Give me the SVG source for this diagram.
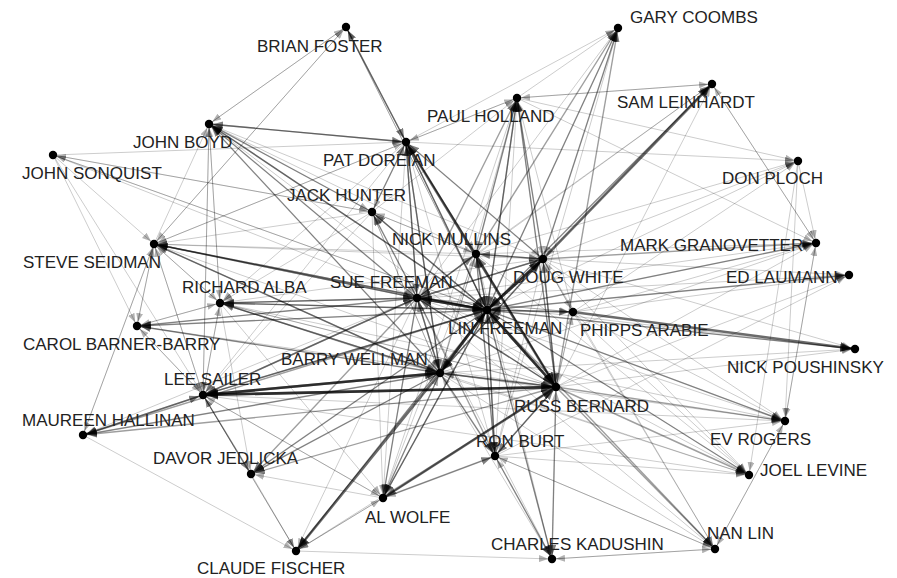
<svg xmlns="http://www.w3.org/2000/svg" width="897" height="578" viewBox="0 0 897 578">
<style>
  line { stroke: #000; stroke-opacity: .2; stroke-width: 1; marker-end: url(#ma); }
  line.b { stroke-opacity: .38; stroke-width: 1.4; marker-end: url(#mb); }
  line.c { stroke-opacity: .58; stroke-width: 2.6; marker-end: url(#mc); }
  circle { fill: #000; }
  text { font-family: "Liberation Sans", Arial, sans-serif; font-size: 17px; fill: #222; }
</style>
<defs>
  <marker id="ma" viewBox="0 0 9 7" refX="13" refY="3.5" markerWidth="9" markerHeight="7" markerUnits="userSpaceOnUse" orient="auto">
    <path d="M0,0 L9,3.5 L0,7 z" fill="#000" fill-opacity=".3"/>
  </marker>
  <marker id="mb" viewBox="0 0 10 8" refX="14" refY="4" markerWidth="10" markerHeight="8" markerUnits="userSpaceOnUse" orient="auto">
    <path d="M0,0 L10,4 L0,8 z" fill="#000" fill-opacity=".5"/>
  </marker>
  <marker id="mc" viewBox="0 0 12 10" refX="15" refY="5" markerWidth="12" markerHeight="10" markerUnits="userSpaceOnUse" orient="auto">
    <path d="M0,0 L12,5 L0,10 z" fill="#000" fill-opacity=".7"/>
  </marker>
</defs>
<rect width="897" height="578" fill="#fff"/>
<g id="edges">
  <!-- Lin Freeman -->
  <line class="b" x1="487" y1="310" x2="618" y2="28"/>
  <line class="b" x1="487" y1="310" x2="712" y2="84"/>
  <line class="b" x1="487" y1="310" x2="517" y2="98"/>
  <line class="b" x1="487" y1="310" x2="406" y2="142"/>
  <line class="b" x1="487" y1="310" x2="209" y2="124"/>
  <line x1="487" y1="310" x2="346" y2="27"/>
  <line x1="487" y1="310" x2="798" y2="161"/>
  <line class="b" x1="487" y1="310" x2="816" y2="243"/>
  <line class="b" x1="487" y1="310" x2="849" y2="275"/>
  <line class="b" x1="487" y1="310" x2="855" y2="349"/>
  <line class="b" x1="487" y1="310" x2="785" y2="421"/>
  <line class="b" x1="487" y1="310" x2="749" y2="475"/>
  <line class="b" x1="487" y1="310" x2="715" y2="549"/>
  <line class="b" x1="487" y1="310" x2="552" y2="559"/>
  <line class="b" x1="487" y1="310" x2="495" y2="456"/>
  <line class="b" x1="487" y1="310" x2="383" y2="498"/>
  <line class="b" x1="487" y1="310" x2="296" y2="551"/>
  <line class="b" x1="487" y1="310" x2="251" y2="474"/>
  <line class="b" x1="487" y1="310" x2="83" y2="435"/>
  <line class="b" x1="487" y1="310" x2="203" y2="395"/>
  <line class="b" x1="487" y1="310" x2="137" y2="326"/>
  <line class="b" x1="487" y1="310" x2="154" y2="244"/>
  <line class="b" x1="487" y1="310" x2="220" y2="303"/>
  <line x1="487" y1="310" x2="53" y2="155"/>
  <line class="b" x1="487" y1="310" x2="372" y2="212"/>
  <line class="c" x1="487" y1="310" x2="417" y2="298"/>
  <line class="c" x1="487" y1="310" x2="440" y2="373"/>
  <line class="c" x1="487" y1="310" x2="556" y2="387"/>
  <line class="c" x1="487" y1="310" x2="543" y2="259"/>
  <line class="b" x1="487" y1="310" x2="476" y2="254"/>
  <line class="b" x1="487" y1="310" x2="573" y2="312"/>
  <!-- Sue Freeman -->
  <line class="c" x1="417" y1="298" x2="487" y2="310"/>
  <line class="b" x1="417" y1="298" x2="440" y2="373"/>
  <line class="b" x1="417" y1="298" x2="556" y2="387"/>
  <line class="b" x1="417" y1="298" x2="543" y2="259"/>
  <line class="b" x1="417" y1="298" x2="476" y2="254"/>
  <line class="b" x1="417" y1="298" x2="406" y2="142"/>
  <line class="b" x1="417" y1="298" x2="372" y2="212"/>
  <line class="b" x1="417" y1="298" x2="209" y2="124"/>
  <line class="b" x1="417" y1="298" x2="220" y2="303"/>
  <line class="b" x1="417" y1="298" x2="154" y2="244"/>
  <line class="b" x1="417" y1="298" x2="137" y2="326"/>
  <line class="b" x1="417" y1="298" x2="203" y2="395"/>
  <line x1="417" y1="298" x2="83" y2="435"/>
  <line class="b" x1="417" y1="298" x2="251" y2="474"/>
  <line class="b" x1="417" y1="298" x2="383" y2="498"/>
  <line x1="417" y1="298" x2="296" y2="551"/>
  <line class="b" x1="417" y1="298" x2="495" y2="456"/>
  <line x1="417" y1="298" x2="552" y2="559"/>
  <line x1="417" y1="298" x2="715" y2="549"/>
  <line x1="417" y1="298" x2="749" y2="475"/>
  <line x1="417" y1="298" x2="785" y2="421"/>
  <line x1="417" y1="298" x2="855" y2="349"/>
  <line x1="417" y1="298" x2="849" y2="275"/>
  <line x1="417" y1="298" x2="816" y2="243"/>
  <line class="b" x1="417" y1="298" x2="517" y2="98"/>
  <line x1="417" y1="298" x2="712" y2="84"/>
  <line x1="417" y1="298" x2="618" y2="28"/>
  <line x1="417" y1="298" x2="573" y2="312"/>
  <!-- Barry Wellman -->
  <line class="c" x1="440" y1="373" x2="487" y2="310"/>
  <line class="c" x1="440" y1="373" x2="203" y2="395"/>
  <line class="c" x1="440" y1="373" x2="296" y2="551"/>
  <line class="b" x1="440" y1="373" x2="417" y2="298"/>
  <line class="b" x1="440" y1="373" x2="556" y2="387"/>
  <line class="b" x1="440" y1="373" x2="406" y2="142"/>
  <line class="b" x1="440" y1="373" x2="209" y2="124"/>
  <line x1="440" y1="373" x2="372" y2="212"/>
  <line class="b" x1="440" y1="373" x2="220" y2="303"/>
  <line class="b" x1="440" y1="373" x2="154" y2="244"/>
  <line class="b" x1="440" y1="373" x2="137" y2="326"/>
  <line class="b" x1="440" y1="373" x2="83" y2="435"/>
  <line class="b" x1="440" y1="373" x2="251" y2="474"/>
  <line class="b" x1="440" y1="373" x2="383" y2="498"/>
  <line class="b" x1="440" y1="373" x2="495" y2="456"/>
  <line x1="440" y1="373" x2="552" y2="559"/>
  <line x1="440" y1="373" x2="715" y2="549"/>
  <line x1="440" y1="373" x2="749" y2="475"/>
  <line x1="440" y1="373" x2="785" y2="421"/>
  <line x1="440" y1="373" x2="855" y2="349"/>
  <line x1="440" y1="373" x2="816" y2="243"/>
  <line x1="440" y1="373" x2="517" y2="98"/>
  <line class="b" x1="440" y1="373" x2="543" y2="259"/>
  <line x1="440" y1="373" x2="476" y2="254"/>
  <!-- Russ Bernard -->
  <line class="c" x1="556" y1="387" x2="487" y2="310"/>
  <line class="c" x1="556" y1="387" x2="203" y2="395"/>
  <line class="b" x1="556" y1="387" x2="440" y2="373"/>
  <line class="b" x1="556" y1="387" x2="417" y2="298"/>
  <line class="b" x1="556" y1="387" x2="406" y2="142"/>
  <line class="b" x1="556" y1="387" x2="543" y2="259"/>
  <line class="b" x1="556" y1="387" x2="476" y2="254"/>
  <line class="b" x1="556" y1="387" x2="517" y2="98"/>
  <line x1="556" y1="387" x2="712" y2="84"/>
  <line class="b" x1="556" y1="387" x2="618" y2="28"/>
  <line x1="556" y1="387" x2="816" y2="243"/>
  <line x1="556" y1="387" x2="849" y2="275"/>
  <line x1="556" y1="387" x2="855" y2="349"/>
  <line class="b" x1="556" y1="387" x2="785" y2="421"/>
  <line class="b" x1="556" y1="387" x2="749" y2="475"/>
  <line class="b" x1="556" y1="387" x2="715" y2="549"/>
  <line class="b" x1="556" y1="387" x2="552" y2="559"/>
  <line class="b" x1="556" y1="387" x2="495" y2="456"/>
  <line class="b" x1="556" y1="387" x2="383" y2="498"/>
  <line class="b" x1="556" y1="387" x2="251" y2="474"/>
  <line class="b" x1="556" y1="387" x2="83" y2="435"/>
  <line x1="556" y1="387" x2="296" y2="551"/>
  <line x1="556" y1="387" x2="220" y2="303"/>
  <line x1="556" y1="387" x2="154" y2="244"/>
  <line x1="556" y1="387" x2="137" y2="326"/>
  <line x1="556" y1="387" x2="209" y2="124"/>
  <line x1="556" y1="387" x2="573" y2="312"/>
  <!-- Doug White -->
  <line class="c" x1="543" y1="259" x2="487" y2="310"/>
  <line class="c" x1="543" y1="259" x2="712" y2="84"/>
  <line class="b" x1="543" y1="259" x2="618" y2="28"/>
  <line class="b" x1="543" y1="259" x2="517" y2="98"/>
  <line class="b" x1="543" y1="259" x2="406" y2="142"/>
  <line class="b" x1="543" y1="259" x2="476" y2="254"/>
  <line class="b" x1="543" y1="259" x2="417" y2="298"/>
  <line class="b" x1="543" y1="259" x2="440" y2="373"/>
  <line class="b" x1="543" y1="259" x2="556" y2="387"/>
  <line class="b" x1="543" y1="259" x2="816" y2="243"/>
  <line x1="543" y1="259" x2="849" y2="275"/>
  <line x1="543" y1="259" x2="855" y2="349"/>
  <line x1="543" y1="259" x2="798" y2="161"/>
  <line x1="543" y1="259" x2="785" y2="421"/>
  <line x1="543" y1="259" x2="749" y2="475"/>
  <line x1="543" y1="259" x2="715" y2="549"/>
  <line x1="543" y1="259" x2="495" y2="456"/>
  <line x1="543" y1="259" x2="209" y2="124"/>
  <line x1="543" y1="259" x2="154" y2="244"/>
  <line x1="543" y1="259" x2="220" y2="303"/>
  <line x1="543" y1="259" x2="573" y2="312"/>
  <!-- Nick Mullins -->
  <line class="b" x1="476" y1="254" x2="517" y2="98"/>
  <line class="b" x1="476" y1="254" x2="618" y2="28"/>
  <line x1="476" y1="254" x2="712" y2="84"/>
  <line class="b" x1="476" y1="254" x2="406" y2="142"/>
  <line class="b" x1="476" y1="254" x2="487" y2="310"/>
  <line class="b" x1="476" y1="254" x2="543" y2="259"/>
  <line class="b" x1="476" y1="254" x2="417" y2="298"/>
  <line x1="476" y1="254" x2="440" y2="373"/>
  <line x1="476" y1="254" x2="556" y2="387"/>
  <line x1="476" y1="254" x2="209" y2="124"/>
  <line x1="476" y1="254" x2="372" y2="212"/>
  <line x1="476" y1="254" x2="154" y2="244"/>
  <line class="b" x1="476" y1="254" x2="495" y2="456"/>
  <line x1="476" y1="254" x2="552" y2="559"/>
  <line x1="476" y1="254" x2="383" y2="498"/>
  <line x1="476" y1="254" x2="816" y2="243"/>
  <line x1="476" y1="254" x2="798" y2="161"/>
  <line x1="476" y1="254" x2="749" y2="475"/>
  <!-- Pat Doreian -->
  <line class="c" x1="406" y1="142" x2="556" y2="387"/>
  <line class="b" x1="406" y1="142" x2="487" y2="310"/>
  <line class="b" x1="406" y1="142" x2="440" y2="373"/>
  <line class="b" x1="406" y1="142" x2="417" y2="298"/>
  <line class="b" x1="406" y1="142" x2="209" y2="124"/>
  <line x1="406" y1="142" x2="517" y2="98"/>
  <line x1="406" y1="142" x2="543" y2="259"/>
  <line x1="406" y1="142" x2="618" y2="28"/>
  <line class="b" x1="406" y1="142" x2="346" y2="27"/>
  <line x1="406" y1="142" x2="798" y2="161"/>
  <line x1="406" y1="142" x2="372" y2="212"/>
  <line x1="406" y1="142" x2="154" y2="244"/>
  <line x1="406" y1="142" x2="220" y2="303"/>
  <line x1="406" y1="142" x2="203" y2="395"/>
  <line x1="406" y1="142" x2="383" y2="498"/>
  <line x1="406" y1="142" x2="495" y2="456"/>
  <line x1="406" y1="142" x2="476" y2="254"/>
  <!-- Jack Hunter -->
  <line class="b" x1="372" y1="212" x2="209" y2="124"/>
  <line class="b" x1="372" y1="212" x2="406" y2="142"/>
  <line class="b" x1="372" y1="212" x2="487" y2="310"/>
  <line x1="372" y1="212" x2="417" y2="298"/>
  <line x1="372" y1="212" x2="440" y2="373"/>
  <line x1="372" y1="212" x2="517" y2="98"/>
  <line x1="372" y1="212" x2="53" y2="155"/>
  <line x1="372" y1="212" x2="154" y2="244"/>
  <line x1="372" y1="212" x2="220" y2="303"/>
  <line x1="372" y1="212" x2="203" y2="395"/>
  <line x1="372" y1="212" x2="383" y2="498"/>
  <line x1="372" y1="212" x2="476" y2="254"/>
  <!-- Paul Holland -->
  <line x1="517" y1="98" x2="406" y2="142"/>
  <line class="b" x1="517" y1="98" x2="487" y2="310"/>
  <line x1="517" y1="98" x2="712" y2="84"/>
  <line x1="517" y1="98" x2="618" y2="28"/>
  <line x1="517" y1="98" x2="543" y2="259"/>
  <line x1="517" y1="98" x2="476" y2="254"/>
  <line x1="517" y1="98" x2="556" y2="387"/>
  <line x1="517" y1="98" x2="798" y2="161"/>
  <line x1="517" y1="98" x2="816" y2="243"/>
  <!-- Phipps Arabie -->
  <line class="c" x1="573" y1="312" x2="855" y2="349"/>
  <line class="b" x1="573" y1="312" x2="487" y2="310"/>
  <line x1="573" y1="312" x2="543" y2="259"/>
  <line x1="573" y1="312" x2="816" y2="243"/>
  <line x1="573" y1="312" x2="849" y2="275"/>
  <line x1="573" y1="312" x2="798" y2="161"/>
  <line x1="573" y1="312" x2="785" y2="421"/>
  <line x1="573" y1="312" x2="749" y2="475"/>
  <line x1="573" y1="312" x2="517" y2="98"/>
  <line x1="573" y1="312" x2="417" y2="298"/>
  <line x1="573" y1="312" x2="556" y2="387"/>
  <line x1="573" y1="312" x2="715" y2="549"/>
  <!-- Ron Burt -->
  <line class="b" x1="495" y1="456" x2="556" y2="387"/>
  <line class="b" x1="495" y1="456" x2="487" y2="310"/>
  <line class="b" x1="495" y1="456" x2="552" y2="559"/>
  <line x1="495" y1="456" x2="715" y2="549"/>
  <line x1="495" y1="456" x2="383" y2="498"/>
  <line x1="495" y1="456" x2="440" y2="373"/>
  <line x1="495" y1="456" x2="476" y2="254"/>
  <line x1="495" y1="456" x2="517" y2="98"/>
  <line x1="495" y1="456" x2="618" y2="28"/>
  <line x1="495" y1="456" x2="849" y2="275"/>
  <line x1="495" y1="456" x2="785" y2="421"/>
  <line x1="495" y1="456" x2="749" y2="475"/>
  <!-- Al Wolfe -->
  <line class="c" x1="383" y1="498" x2="556" y2="387"/>
  <line class="b" x1="383" y1="498" x2="495" y2="456"/>
  <line class="b" x1="383" y1="498" x2="487" y2="310"/>
  <line x1="383" y1="498" x2="440" y2="373"/>
  <line x1="383" y1="498" x2="417" y2="298"/>
  <line x1="383" y1="498" x2="296" y2="551"/>
  <line x1="383" y1="498" x2="251" y2="474"/>
  <line x1="383" y1="498" x2="203" y2="395"/>
  <line x1="383" y1="498" x2="517" y2="98"/>
  <!-- Lee Sailer -->
  <line class="c" x1="203" y1="395" x2="440" y2="373"/>
  <line class="c" x1="203" y1="395" x2="556" y2="387"/>
  <line class="b" x1="203" y1="395" x2="487" y2="310"/>
  <line class="b" x1="203" y1="395" x2="417" y2="298"/>
  <line class="b" x1="203" y1="395" x2="83" y2="435"/>
  <line class="b" x1="203" y1="395" x2="251" y2="474"/>
  <line x1="203" y1="395" x2="296" y2="551"/>
  <line x1="203" y1="395" x2="209" y2="124"/>
  <line x1="203" y1="395" x2="154" y2="244"/>
  <line x1="203" y1="395" x2="137" y2="326"/>
  <line x1="203" y1="395" x2="220" y2="303"/>
  <line x1="203" y1="395" x2="383" y2="498"/>
  <line x1="203" y1="395" x2="785" y2="421"/>
  <line x1="203" y1="395" x2="749" y2="475"/>
  <!-- Richard Alba -->
  <line class="b" x1="220" y1="303" x2="487" y2="310"/>
  <line class="b" x1="220" y1="303" x2="417" y2="298"/>
  <line class="b" x1="220" y1="303" x2="440" y2="373"/>
  <line x1="220" y1="303" x2="556" y2="387"/>
  <line x1="220" y1="303" x2="203" y2="395"/>
  <line x1="220" y1="303" x2="209" y2="124"/>
  <line x1="220" y1="303" x2="154" y2="244"/>
  <line x1="220" y1="303" x2="137" y2="326"/>
  <line x1="220" y1="303" x2="383" y2="498"/>
  <line x1="220" y1="303" x2="251" y2="474"/>
  <line x1="220" y1="303" x2="785" y2="421"/>
  <line x1="220" y1="303" x2="749" y2="475"/>
  <!-- Steve Seidman -->
  <line class="b" x1="154" y1="244" x2="487" y2="310"/>
  <line class="b" x1="154" y1="244" x2="417" y2="298"/>
  <line class="b" x1="154" y1="244" x2="440" y2="373"/>
  <line x1="154" y1="244" x2="137" y2="326"/>
  <line x1="154" y1="244" x2="203" y2="395"/>
  <line x1="154" y1="244" x2="209" y2="124"/>
  <line x1="154" y1="244" x2="406" y2="142"/>
  <line x1="154" y1="244" x2="220" y2="303"/>
  <line x1="154" y1="244" x2="346" y2="27"/>
  <line x1="154" y1="244" x2="83" y2="435"/>
  <!-- Carol Barner-Barry -->
  <line x1="137" y1="326" x2="487" y2="310"/>
  <line x1="137" y1="326" x2="417" y2="298"/>
  <line x1="137" y1="326" x2="440" y2="373"/>
  <line x1="137" y1="326" x2="220" y2="303"/>
  <line x1="137" y1="326" x2="203" y2="395"/>
  <line x1="137" y1="326" x2="154" y2="244"/>
  <!-- John Boyd -->
  <line class="b" x1="209" y1="124" x2="406" y2="142"/>
  <line class="b" x1="209" y1="124" x2="487" y2="310"/>
  <line x1="209" y1="124" x2="417" y2="298"/>
  <line x1="209" y1="124" x2="440" y2="373"/>
  <line x1="209" y1="124" x2="203" y2="395"/>
  <line x1="209" y1="124" x2="346" y2="27"/>
  <line x1="209" y1="124" x2="372" y2="212"/>
  <line x1="209" y1="124" x2="220" y2="303"/>
  <!-- John Sonquist -->
  <line x1="53" y1="155" x2="372" y2="212"/>
  <line x1="53" y1="155" x2="417" y2="298"/>
  <line x1="53" y1="155" x2="487" y2="310"/>
  <line x1="53" y1="155" x2="154" y2="244"/>
  <line x1="53" y1="155" x2="137" y2="326"/>
  <line x1="53" y1="155" x2="203" y2="395"/>
  <line x1="53" y1="155" x2="406" y2="142"/>
  <!-- Maureen Hallinan -->
  <line class="b" x1="83" y1="435" x2="203" y2="395"/>
  <line x1="83" y1="435" x2="296" y2="551"/>
  <line x1="83" y1="435" x2="440" y2="373"/>
  <line x1="83" y1="435" x2="154" y2="244"/>
  <!-- Davor Jedlicka -->
  <line x1="251" y1="474" x2="203" y2="395"/>
  <line x1="251" y1="474" x2="296" y2="551"/>
  <line x1="251" y1="474" x2="487" y2="310"/>
  <line x1="251" y1="474" x2="440" y2="373"/>
  <!-- Claude Fischer -->
  <line x1="296" y1="551" x2="552" y2="559"/>
  <line x1="296" y1="551" x2="203" y2="395"/>
  <line x1="296" y1="551" x2="487" y2="310"/>
  <line x1="296" y1="551" x2="383" y2="498"/>
  <!-- Charles Kadushin -->
  <line x1="552" y1="559" x2="495" y2="456"/>
  <line x1="552" y1="559" x2="715" y2="549"/>
  <line x1="552" y1="559" x2="487" y2="310"/>
  <line x1="552" y1="559" x2="556" y2="387"/>
  <!-- Nan Lin -->
  <line x1="715" y1="549" x2="785" y2="421"/>
  <line x1="715" y1="549" x2="552" y2="559"/>
  <line x1="715" y1="549" x2="495" y2="456"/>
  <!-- Ev Rogers -->
  <line x1="785" y1="421" x2="715" y2="549"/>
  <line x1="785" y1="421" x2="487" y2="310"/>
  <line x1="785" y1="421" x2="816" y2="243"/>
  <!-- Don Ploch -->
  <line x1="798" y1="161" x2="816" y2="243"/>
  <line x1="798" y1="161" x2="749" y2="475"/>
  <line x1="798" y1="161" x2="785" y2="421"/>
  <!-- Sam Leinhardt -->
  <line x1="712" y1="84" x2="816" y2="243"/>
  <line x1="712" y1="84" x2="517" y2="98"/>
  <line x1="712" y1="84" x2="487" y2="310"/>
  <line x1="712" y1="84" x2="543" y2="259"/>
  <!-- Mark Granovetter -->
  <line x1="816" y1="243" x2="712" y2="84"/>
  <line x1="816" y1="243" x2="785" y2="421"/>
  <line x1="816" y1="243" x2="487" y2="310"/>
  <!-- periphery back to the centre -->
  <line x1="849" y1="275" x2="487" y2="310"/>
  <line x1="855" y1="349" x2="487" y2="310"/>
  <line x1="749" y1="475" x2="487" y2="310"/>
  <line x1="618" y1="28" x2="543" y2="259"/>
  <line x1="618" y1="28" x2="487" y2="310"/>
  <!-- Brian Foster -->
  <line class="b" x1="346" y1="27" x2="406" y2="142"/>
  <line x1="346" y1="27" x2="209" y2="124"/>
  <line x1="346" y1="27" x2="487" y2="310"/>
  <line x1="346" y1="27" x2="154" y2="244"/>
</g>
<g id="n-gary-coombs"><circle cx="618" cy="28" r="4.2"/><text x="630" y="23">GARY COOMBS</text></g>
<g id="n-brian-foster"><circle cx="346" cy="27" r="4.2"/><text x="257" y="52">BRIAN FOSTER</text></g>
<g id="n-sam-leinhardt"><circle cx="712" cy="84" r="4.2"/><text x="617" y="108">SAM LEINHARDT</text></g>
<g id="n-paul-holland"><circle cx="517" cy="98" r="4.2"/><text x="427" y="122">PAUL HOLLAND</text></g>
<g id="n-john-boyd"><circle cx="209" cy="124" r="4.2"/><text x="133" y="148">JOHN BOYD</text></g>
<g id="n-pat-doreian"><circle cx="406" cy="142" r="4.2"/><text x="323" y="166">PAT DOREIAN</text></g>
<g id="n-don-ploch"><circle cx="798" cy="161" r="4.2"/><text x="722" y="184">DON PLOCH</text></g>
<g id="n-john-sonquist"><circle cx="53" cy="155" r="4.2"/><text x="22" y="179">JOHN SONQUIST</text></g>
<g id="n-jack-hunter"><circle cx="372" cy="212" r="4.2"/><text x="287" y="201">JACK HUNTER</text></g>
<g id="n-nick-mullins"><circle cx="476" cy="254" r="4.2"/><text x="392" y="245">NICK MULLINS</text></g>
<g id="n-mark-granovetter"><circle cx="816" cy="243" r="4.2"/><text x="620" y="251">MARK GRANOVETTER</text></g>
<g id="n-steve-seidman"><circle cx="154" cy="244" r="4.2"/><text x="23" y="268">STEVE SEIDMAN</text></g>
<g id="n-doug-white"><circle cx="543" cy="259" r="4.2"/><text x="513" y="283">DOUG WHITE</text></g>
<g id="n-ed-laumann"><circle cx="849" cy="275" r="4.2"/><text x="726" y="283">ED LAUMANN</text></g>
<g id="n-richard-alba"><circle cx="220" cy="303" r="4.2"/><text x="182" y="293">RICHARD ALBA</text></g>
<g id="n-sue-freeman"><circle cx="417" cy="298" r="4.2"/><text x="330" y="288">SUE FREEMAN</text></g>
<g id="n-lin-freeman"><circle cx="487" cy="310" r="4.2"/><text x="448" y="334">LIN FREEMAN</text></g>
<g id="n-phipps-arabie"><circle cx="573" cy="312" r="4.2"/><text x="580" y="336">PHIPPS ARABIE</text></g>
<g id="n-carol-barner-barry"><circle cx="137" cy="326" r="4.2"/><text x="23" y="350">CAROL BARNER-BARRY</text></g>
<g id="n-nick-poushinsky"><circle cx="855" cy="349" r="4.2"/><text x="727" y="373">NICK POUSHINSKY</text></g>
<g id="n-barry-wellman"><circle cx="440" cy="373" r="4.2"/><text x="281" y="365">BARRY WELLMAN</text></g>
<g id="n-lee-sailer"><circle cx="203" cy="395" r="4.2"/><text x="164" y="385">LEE SAILER</text></g>
<g id="n-russ-bernard"><circle cx="556" cy="387" r="4.2"/><text x="514" y="412">RUSS BERNARD</text></g>
<g id="n-maureen-hallinan"><circle cx="83" cy="435" r="4.2"/><text x="22" y="426">MAUREEN HALLINAN</text></g>
<g id="n-ev-rogers"><circle cx="785" cy="421" r="4.2"/><text x="710" y="445">EV ROGERS</text></g>
<g id="n-ron-burt"><circle cx="495" cy="456" r="4.2"/><text x="476" y="447">RON BURT</text></g>
<g id="n-davor-jedlicka"><circle cx="251" cy="474" r="4.2"/><text x="153" y="464">DAVOR JEDLICKA</text></g>
<g id="n-joel-levine"><circle cx="749" cy="475" r="4.2"/><text x="760" y="476">JOEL LEVINE</text></g>
<g id="n-al-wolfe"><circle cx="383" cy="498" r="4.2"/><text x="365" y="523">AL WOLFE</text></g>
<g id="n-nan-lin"><circle cx="715" cy="549" r="4.2"/><text x="707" y="539">NAN LIN</text></g>
<g id="n-charles-kadushin"><circle cx="552" cy="559" r="4.2"/><text x="491" y="550">CHARLES KADUSHIN</text></g>
<g id="n-claude-fischer"><circle cx="296" cy="551" r="4.2"/><text x="197" y="574">CLAUDE FISCHER</text></g>
</svg>
